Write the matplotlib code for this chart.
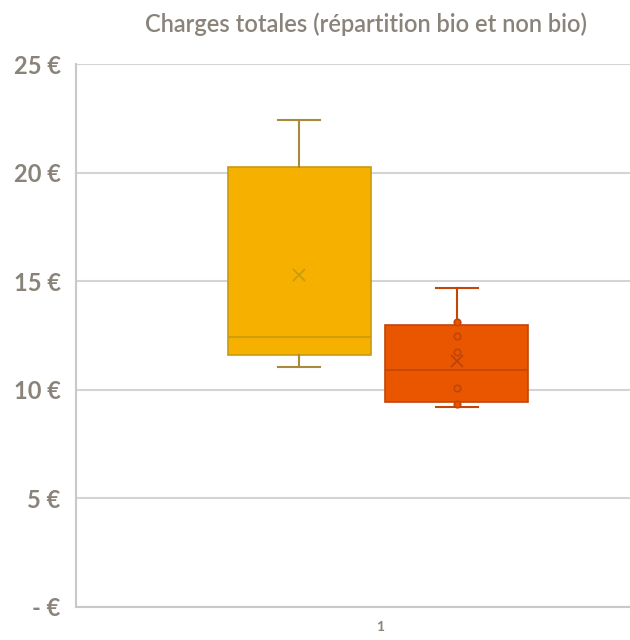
import matplotlib
matplotlib.use("Agg")
import matplotlib.pyplot as plt

# Data
series_names = ["bio", "non bio"]
whisker_low = [11.06, 9.22]
q1 = [11.61, 9.45]
median = [12.44, 10.92]
q3 = [20.28, 13.0]
whisker_high = [22.4, 14.7]
means = [15.3, 11.34]
inner_points_2 = [13.13, 12.49, 11.75, 10.09, 9.35]
category_labels = ["1"]
y_ticks = [0, 5, 10, 15, 20, 25]
y_tick_labels = ["- €", "5 €", "10 €", "15 €", "20 €", "25 €"]
title = "Charges totales (répartition bio et non bio)"

face_colors = ["#F5B000", "#EA5500"]
edge_colors = ["#C99A10", "#C24608"]
whisker_colors = ["#A88A3C", "#C24608"]
mean_colors = ["#C99A10", "#B8440C"]
text_color = "#8A837A"

plt.rcParams['font.family'] = ['Lato', 'DejaVu Sans']

fig = plt.figure(figsize=(6.3, 6.4), dpi=100)
ax = fig.add_axes([76/630, 1-607/640, 608/630, (607-64)/640])

positions = [0.734, 1.253]
width = 0.47
stats = []
for i in range(2):
    stats.append(dict(med=median[i], q1=q1[i], q3=q3[i], whislo=whisker_low[i],
                      whishi=whisker_high[i], mean=means[i], fliers=[], label=series_names[i]))

for i in range(2):
    ax.bxp([stats[i]], positions=[positions[i]], widths=width, patch_artist=True,
           showmeans=True, capwidths=0.138,
           boxprops=dict(facecolor=face_colors[i], edgecolor=edge_colors[i], linewidth=1.2),
           medianprops=dict(color=edge_colors[i], linewidth=1.2),
           whiskerprops=dict(color=whisker_colors[i], linewidth=1.5),
           capprops=dict(color=whisker_colors[i], linewidth=1.5),
           meanprops=dict(marker='x', markeredgecolor=mean_colors[i], markersize=9,
                          markeredgewidth=1.2),
           manage_ticks=False, zorder=3)

ax.scatter([positions[1]] * len(inner_points_2), inner_points_2, s=22,
           facecolors=face_colors[1], edgecolors=edge_colors[1], linewidths=1.2, zorder=4)

ax.set_xlim(0, 2)
ax.set_ylim(0, 25)
ax.set_yticks(y_ticks)
ax.set_yticklabels(y_tick_labels, fontweight='bold')
ax.set_xticks([1])
ax.set_xticklabels(category_labels, fontweight='bold')
ax.yaxis.grid(True, color="#D4D4D4", linewidth=1.5, zorder=0)
ax.set_axisbelow(True)
for s in ["top", "right"]:
    ax.spines[s].set_visible(False)
for s in ["left", "bottom"]:
    ax.spines[s].set_color("#C8C8C8")
    ax.spines[s].set_linewidth(1.5)
ax.tick_params(axis='y', length=0, labelsize=17, colors=text_color, pad=11)
ax.tick_params(axis='x', length=0, labelsize=10, colors=text_color, pad=10)

fig.text(366/630, 1-24/640, title, ha='center', va='center', fontsize=17,
         fontweight='semibold', color=text_color)

fig.savefig("out.png", dpi=100)
